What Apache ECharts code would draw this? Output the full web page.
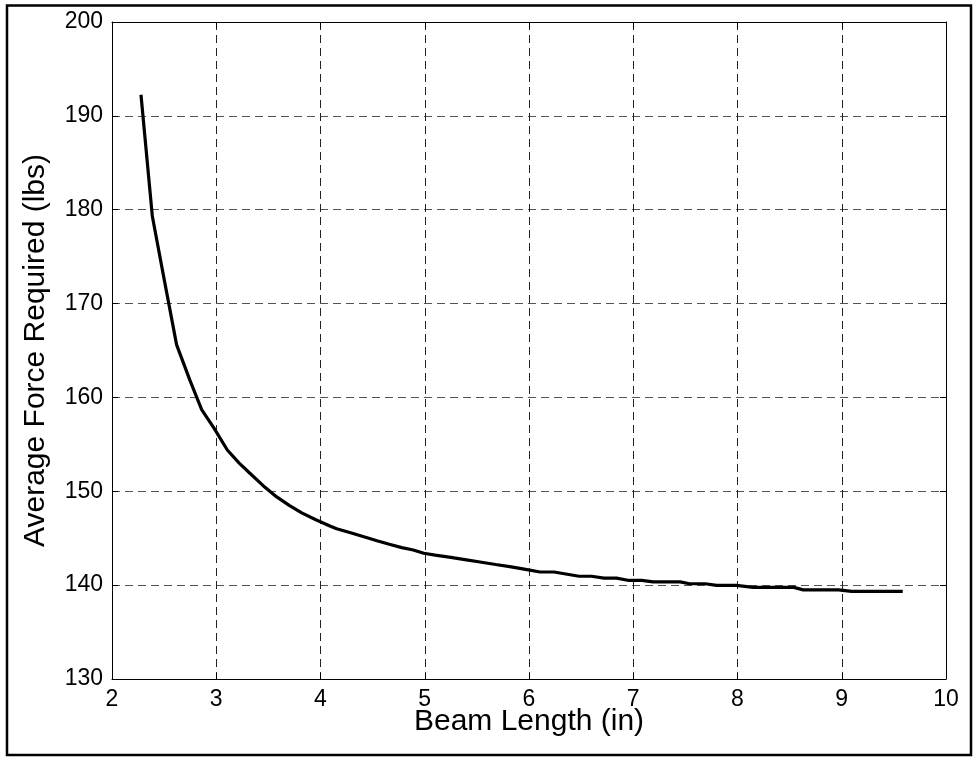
<!DOCTYPE html>
<html>
<head>
<meta charset="utf-8">
<script src="https://cdn.jsdelivr.net/npm/echarts@6/dist/echarts.min.js"></script>
<style>
html,body{margin:0;padding:0;background:#fff;}
#chart{width:973px;height:759px;}
</style>
</head>
<body>
<div id="chart"></div>
<script>
// Beam length (in)
var beamLength = [2.278, 2.387, 2.50, 2.62, 2.745, 2.86, 2.98, 3.106, 3.22, 3.32, 3.45, 3.58, 3.70, 3.82, 3.95, 4.09, 4.155, 4.28, 4.40, 4.55, 4.66, 4.78, 4.89, 4.99, 5.10, 5.25, 5.40, 5.53, 5.68, 5.83, 5.98, 6.106, 6.24, 6.48, 6.60, 6.72, 6.84, 6.96, 7.08, 7.19, 7.45, 7.54, 7.69, 7.80, 7.99, 8.15, 8.54, 8.63, 8.97, 9.095, 9.585];
// Average force required (lbs)
var avgForce = [192.25, 179.3, 172.6, 165.6, 161.9, 158.7, 156.7, 154.4, 153.0, 151.95, 150.6, 149.4, 148.5, 147.7, 147.0, 146.3, 146.0, 145.6, 145.2, 144.7, 144.35, 144.0, 143.75, 143.4, 143.2, 142.95, 142.7, 142.47, 142.2, 141.95, 141.65, 141.4, 141.4, 140.95, 140.95, 140.75, 140.75, 140.5, 140.5, 140.35, 140.35, 140.15, 140.15, 139.97, 139.97, 139.76, 139.76, 139.5, 139.5, 139.33, 139.33];

var xTitle = 'Beam Length (in)';
var yTitle = 'Average Force Required (lbs)';

var pts = beamLength.map(function (x, i) { return [x, avgForce[i]]; });

var font = 'Liberation Sans, Arial, sans-serif';
var chart = echarts.init(document.getElementById('chart'));
chart.setOption({
  animation: false,
  backgroundColor: '#fff',
  grid: { left: 112, right: 27, top: 22, bottom: 80, containLabel: false },
  xAxis: [{
    type: 'value', min: 2, max: 10, interval: 1,
    name: xTitle, nameLocation: 'middle', nameGap: 28, nameMoveOverlap: false,
    nameTextStyle: { fontFamily: font, fontSize: 30, color: '#000' },
    axisLine: { show: true, onZero: false, lineStyle: { color: '#000', width: 1 } },
    axisTick: { show: true, inside: true, length: 6, lineStyle: { color: '#000' } },
    axisLabel: { fontFamily: font, fontSize: 23, color: '#000', margin: 9 },
    splitLine: { show: true, lineStyle: { color: '#222', type: [8, 5], width: 1 } }
  }, {
    type: 'value', position: 'top', min: 2, max: 10, interval: 1,
    axisLine: { show: true, onZero: false, lineStyle: { color: '#000', width: 1 } },
    axisTick: { show: true, inside: true, length: 6, lineStyle: { color: '#000' } },
    axisLabel: { show: false }, splitLine: { show: false }
  }],
  yAxis: [{
    type: 'value', min: 130, max: 200, interval: 10,
    name: yTitle, nameLocation: 'middle', nameGap: 61, nameMoveOverlap: false,
    nameTextStyle: { fontFamily: font, fontSize: 30, color: '#000' },
    axisLine: { show: true, onZero: false, lineStyle: { color: '#000', width: 1 } },
    axisTick: { show: true, inside: true, length: 6, lineStyle: { color: '#000' } },
    axisLabel: { fontFamily: font, fontSize: 23, color: '#000', margin: 9 },
    splitLine: { show: true, lineStyle: { color: '#555', type: [8, 5], width: 1 } }
  }, {
    type: 'value', position: 'right', min: 130, max: 200, interval: 10,
    axisLine: { show: true, onZero: false, lineStyle: { color: '#000', width: 1 } },
    axisTick: { show: true, inside: true, length: 6, lineStyle: { color: '#000' } },
    axisLabel: { show: false }, splitLine: { show: false }
  }],
  graphic: [{
    type: 'rect', silent: true, z: 100,
    shape: { x: 7, y: 5.5, width: 964, height: 749.5 },
    style: { fill: null, stroke: '#000', lineWidth: 2.5 }
  }],
  series: [{
    type: 'line', data: pts, showSymbol: false, symbol: 'none',
    lineStyle: { color: '#000', width: 3.2 }, z: 5
  }]
});
</script>
</body>
</html>
